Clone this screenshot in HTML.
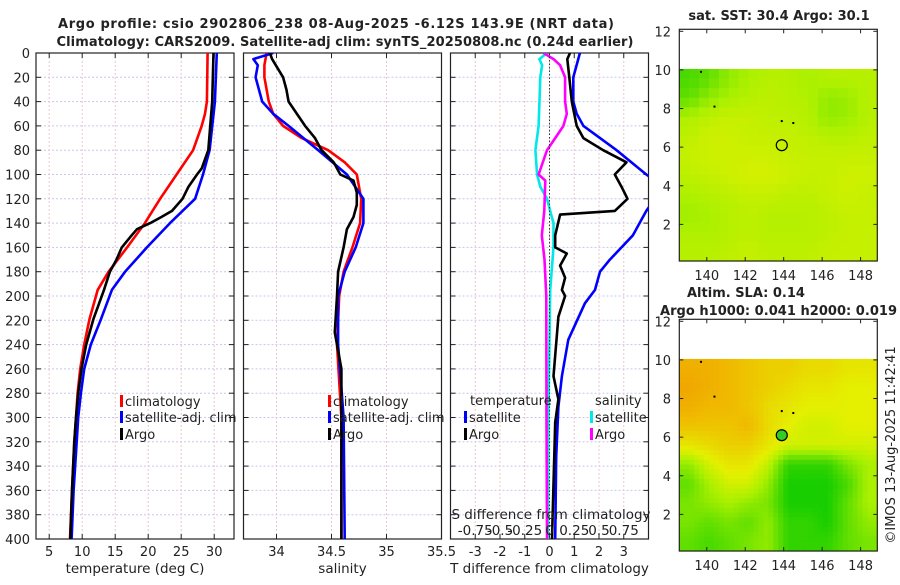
<!DOCTYPE html>
<html><head><meta charset="utf-8"><style>
body{margin:0;background:#fff;}
svg{font-family:"DejaVu Sans","Liberation Sans",sans-serif;}
</style></head><body>
<svg id="fig" width="900" height="580" viewBox="0 0 900 580" xmlns="http://www.w3.org/2000/svg"></svg>
<script>
// ---- data ----
const depthsT = [0,40,50,60,80,100,120,140,160,180,195,219,240,260,280,300,320,360,400];
const tempClim = [29.0,28.9,28.6,28.1,26.8,24.3,21.8,19.5,16.8,14.0,12.35,11.1,10.3,9.7,9.3,9.06,8.8,8.45,8.15];
const depthsTS = [0,40,80,100,120,140,160,180,195,219,240,260,280,300,320,360,400];
const tempSat = [30.4,30.1,29.3,28.3,27.1,23.3,19.8,16.5,14.5,12.85,11.3,10.3,9.8,9.4,9.17,8.7,8.4];
const depthsTA = [0,40,80,95,100,110,120,130,135,140,145,150,160,170,180,195,219,240,260,280,300,320,360,400];
const tempArgo = [29.9,29.7,29.1,28.1,27.4,26.1,25.2,23.6,22.0,20.3,18.3,17.5,16.0,15.2,14.2,13.3,11.7,10.6,9.9,9.4,9.06,8.8,8.45,8.2];

const depthsSC = [0,10,20,40,50,60,70,80,90,100,120,140,160,180,200,240,300,400];
const salClim = [33.91,33.89,33.89,33.93,33.97,34.06,34.23,34.47,34.62,34.73,34.77,34.76,34.69,34.61,34.57,34.55,34.59,34.59];
const depthsSS = [0,5,10,20,40,50,60,80,100,120,140,160,180,200,240,300,400];
const salSat = [33.97,33.79,33.83,33.81,33.87,33.97,34.11,34.38,34.64,34.79,34.79,34.72,34.62,34.56,34.56,34.61,34.62];
const depthsSA = [0,5,20,30,40,60,70,80,90,100,105,115,125,135,145,160,180,200,230,260,300,400];
const salArgo = [33.94,33.96,34.06,34.09,34.11,34.26,34.35,34.41,34.52,34.58,34.70,34.73,34.73,34.70,34.64,34.61,34.56,34.55,34.53,34.59,34.59,34.59];

const depthsDT = [0,20,40,50,60,80,100,110,130,150,160,170,180,195,206,236,266,291,332,400];
const dtSat = [1.23,0.96,0.96,1.10,1.37,2.71,3.91,4.6,3.91,3.37,2.91,2.44,2.04,1.84,1.43,0.76,0.5,0.36,0.27,0.23];
const depthsDA = [0,5,20,40,60,70,80,90,100,110,120,130,133,150,160,165,175,185,195,200,217,266,285,304,400];
const dtArgo = [0.83,0.72,0.8,0.9,1.1,1.37,2.17,3.11,2.64,2.91,3.15,2.64,0.43,0.23,0.23,0.7,0.43,0.63,0.5,0.63,0.36,0.16,0.36,0.23,0.1];
const depthsDSS = [0,5,10,20,60,80,100,110,120,130,140,160,195,304,400];
const dsSat = [-0.1,-0.41,-0.3,-0.37,-0.44,-0.57,-0.5,-0.37,-0.1,0.03,0.16,0.16,0.03,-0.05,-0.06];
const depthsDSA = [0,5,10,20,40,50,60,70,80,100,105,130,150,170,200,300,400];
const dsArgo = [-0.24,0.16,0.43,0.63,0.63,0.7,0.56,0.23,-0.1,-0.44,-0.17,-0.21,-0.31,-0.2,-0.13,-0.12,-0.1];

const depthTicks = [0,20,40,60,80,100,120,140,160,180,200,220,240,260,280,300,320,340,360,380,400];
const tempTicks = [5,10,15,20,25,30];
const salTicks = [34,34.5,35,35.5];
const dTicks = [-3,-2,-1,0,1,2,3];
const sdTicks = [-0.75,-0.5,-0.25,0,0.25,0.5,0.75];
const latTicks = [2,4,6,8,10,12];
const lonTicks = [140,142,144,146,148];

// map values (0 green .. 1 orange), rows from lat 10 down to 0
const sstGrid = [
[0.15,0.2,0.3,0.35,0.38,0.38,0.35,0.38,0.38,0.38],
[0.2,0.3,0.35,0.38,0.4,0.38,0.37,0.3,0.32,0.38],
[0.36,0.4,0.42,0.42,0.4,0.4,0.38,0.3,0.32,0.38],
[0.4,0.44,0.44,0.42,0.42,0.42,0.4,0.38,0.38,0.4],
[0.42,0.44,0.44,0.44,0.44,0.42,0.42,0.42,0.42,0.42],
[0.4,0.42,0.44,0.46,0.46,0.44,0.42,0.42,0.44,0.44],
[0.36,0.38,0.4,0.42,0.42,0.4,0.4,0.42,0.44,0.42],
[0.33,0.35,0.38,0.4,0.38,0.38,0.38,0.4,0.42,0.42],
[0.36,0.36,0.38,0.4,0.38,0.38,0.38,0.4,0.42,0.42],
[0.38,0.38,0.4,0.42,0.4,0.4,0.4,0.42,0.42,0.42]];
const slaGrid = [
[0.8,0.8,0.75,0.7,0.65,0.65,0.6,0.6,0.55,0.55],
[0.85,0.8,0.75,0.7,0.65,0.6,0.55,0.55,0.5,0.5],
[0.8,0.75,0.75,0.7,0.6,0.55,0.5,0.5,0.5,0.5],
[0.7,0.7,0.7,0.75,0.6,0.5,0.45,0.45,0.5,0.5],
[0.55,0.6,0.65,0.65,0.55,0.45,0.45,0.45,0.45,0.45],
[0.3,0.45,0.55,0.55,0.4,0.1,0.1,0.1,0.25,0.35],
[0.2,0.35,0.45,0.45,0.3,0.05,0.05,0.05,0.15,0.35],
[0.25,0.3,0.35,0.3,0.25,0.05,0.05,0.05,0.2,0.35],
[0.25,0.2,0.25,0.2,0.3,0.1,0.1,0.05,0.2,0.3],
[0.2,0.15,0.2,0.25,0.3,0.1,0.1,0.1,0.2,0.25]];

// ---- helpers ----
const NS="http://www.w3.org/2000/svg";
const svg=document.getElementById('fig');
function mk(tag,attrs,parent){const e=document.createElementNS(NS,tag);for(const k in attrs)e.setAttribute(k,attrs[k]);(parent||svg).appendChild(e);return e;}
function txt(s,x,y,anchor,size,weight,parent){const t=mk('text',{x:x,y:y,'text-anchor':anchor||'start','font-size':size||13,'font-weight':weight||'normal',fill:'#222'},parent);t.textContent=s;return t;}

const Y0=53,Y1=539;
const yD=d=>Y0+(Y1-Y0)*d/400;
function makeX(x0,x1,v0,v1){return v=>x0+(x1-x0)*(v-v0)/(v1-v0);}

const panels=[
 {name:'temperature',x0:36,x1:234,v0:3,v1:33,ticks:tempTicks,label:'temperature (deg C)'},
 {name:'salinity',x0:243.5,x1:441.5,v0:33.7,v1:35.5,ticks:salTicks,label:'salinity'},
 {name:'difference',x0:450.5,x1:648.5,v0:-4,v1:4,ticks:dTicks,label:'T difference from climatology'}
];

panels.forEach((p,pi)=>{
  const g=mk('g',{});
  
  
  const xs=makeX(p.x0,p.x1,p.v0,p.v1);p.xs=xs;
  const clip=mk('clipPath',{id:'clip'+pi},g);
  mk('rect',{x:p.x0,y:Y0,width:p.x1-p.x0,height:Y1-Y0},clip);
  depthTicks.forEach(d=>{
    const l=mk('line',{x1:p.x0,x2:p.x1,y1:yD(d),y2:yD(d),stroke:'#c4c8ee','stroke-width':1,'stroke-dasharray':'2,2'},g);
    
    
  });
  p.ticks.forEach(v=>{
    const x=xs(v);
    if(x>p.x0+1&&x<p.x1-1){
      const l=mk('line',{x1:x,x2:x,y1:Y0,y2:Y1,stroke:'#e8c8c8','stroke-width':1,'stroke-dasharray':'2,2'},g);
      
      
    }
    const t=txt(String(v),x,556,'middle',13,'normal',g);
    
    
    mk('line',{x1:x,x2:x,y1:Y1,y2:Y1-5,stroke:'#222'},g);
    mk('line',{x1:x,x2:x,y1:Y0,y2:Y0+5,stroke:'#222'},g);
  });
  depthTicks.forEach(d=>{
    mk('line',{x1:p.x0,x2:p.x0+5,y1:yD(d),y2:yD(d),stroke:'#222'},g);
    mk('line',{x1:p.x1,x2:p.x1-5,y1:yD(d),y2:yD(d),stroke:'#222'},g);
  });
  const fr=mk('rect',{x:p.x0,y:Y0,width:p.x1-p.x0,height:Y1-Y0,fill:'none',stroke:'#222','stroke-width':1.2},g);
  
  
  const xl=txt(p.label,(p.x0+p.x1)/2,573,'middle',13.5,'normal',g);
  
  
  p.g=g;
});
depthTicks.forEach(d=>{
  const t=txt(String(d),30,yD(d)+5,'end',13);
  
  
});
const zl=mk('line',{x1:panels[2].xs(0),x2:panels[2].xs(0),y1:Y0,y2:Y1,stroke:'#333','stroke-dasharray':'1.5,2'});



function series(pi,depths,vals,color,name){
  const p=panels[pi];
  const pts=depths.map((d,i)=>p.xs(vals[i]).toFixed(1)+','+yD(d).toFixed(1)).join(' ');
  const pl=mk('polyline',{points:pts,fill:'none',stroke:color,'stroke-width':2.6,'stroke-linejoin':'round','clip-path':'url(#clip'+pi+')'},p.g);
  
  
}
series(0,depthsT,tempClim,'#ff0000','temp-climatology-line');
series(0,depthsTS,tempSat,'#0000ff','temp-satellite-line');
series(0,depthsTA,tempArgo,'#000000','temp-argo-line');
series(1,depthsSC,salClim,'#ff0000','sal-climatology-line');
series(1,depthsSS,salSat,'#0000ff','sal-satellite-line');
series(1,depthsSA,salArgo,'#000000','sal-argo-line');
series(2,depthsDSS,dsSat,'#00e8e8','sal-diff-satellite-line');
series(2,depthsDSA,dsArgo,'#ff00ff','sal-diff-argo-line');
series(2,depthsDT,dtSat,'#0000ff','temp-diff-satellite-line');
series(2,depthsDA,dtArgo,'#000000','temp-diff-argo-line');

function legEntry(x,y,color,label){
  const g=mk('g',{});
  
  
  mk('rect',{x:x,y:y-11,width:3,height:12,fill:color},g);
  txt(label,x+5,y,'start',13,'normal',g);
}
[120,328].forEach(x=>{
  legEntry(x,406,'#ff0000','climatology');
  legEntry(x,422,'#0000ff','satellite-adj. clim');
  legEntry(x,439,'#000000','Argo');
});
const lh1=txt('temperature',470,405,'start',13);


const lh2=txt('salinity',595,405,'start',13);


legEntry(464,422,'#0000ff','satellite');
legEntry(464,439,'#000000','Argo');
legEntry(590,422,'#00e8e8','satellite');
legEntry(590,439,'#ff00ff','Argo');
const sdt=txt('S difference from climatology',551,519,'middle',13.5);


sdTicks.forEach(v=>{
  const t=txt(String(v),panels[2].xs(v*4),535,'middle',13.5);
  
  
});

const t1=txt('Argo profile: csio 2902806_238 08-Aug-2025 -6.12S 143.9E (NRT data)',336,28,'middle',13,'bold');
t1.setAttribute('textLength',556);


const t2=txt('Climatology: CARS2009. Satellite-adj clim: synTS_20250808.nc (0.24d earlier)',345,46,'middle',13,'bold');
t2.setAttribute('textLength',577);



// maps
const MX0=679.3,MX1=877.3,LON0=138.57,LON1=148.87;
const lonX=makeX(MX0,MX1,LON0,LON1);
function colorOf(v){
  const stops=[[0,[0,200,0]],[0.35,[170,240,0]],[0.5,[228,240,0]],[0.75,[240,185,0]],[1,[240,140,0]]];
  for(let i=1;i<stops.length;i++){if(v<=stops[i][0]){const a=stops[i-1],b=stops[i];const f=(v-a[0])/(b[0]-a[0]);return 'rgb('+a[1].map((c,k)=>Math.round(c+(b[1][k]-c)*f)).join(',')+')';}}
  return 'rgb(240,140,0)';
}
function sample(grid,fr,fc){
  const R=grid.length-1,C=grid[0].length-1;
  const r=Math.max(0,Math.min(R,fr)),c=Math.max(0,Math.min(C,fc));
  const r0=Math.floor(r),c0=Math.floor(c),r1=Math.min(R,r0+1),c1=Math.min(C,c0+1);
  const a=r-r0,b=c-c0;
  return grid[r0][c0]*(1-a)*(1-b)+grid[r0][c1]*(1-a)*b+grid[r1][c0]*a*(1-b)+grid[r1][c1]*a*b;
}
function drawMap(top,bottom,grid,name,circleFill,sub){
  const ly=l=>bottom+2-(bottom+2-(top+2))*l/12;
  const g=mk('g',{});
  
  
  const rows=grid.length*sub,cols=grid[0].length*sub;
  const yTop=ly(10.05),yBot=bottom;
  const ch=(yBot-yTop)/rows,cw=(MX1-MX0)/cols;
  for(let r=0;r<rows;r++)for(let c=0;c<cols;c++){
    const v=sample(grid,(r+0.5)/sub-0.5,(c+0.5)/sub-0.5);
    const cell=mk('rect',{x:(MX0+c*cw).toFixed(2),y:(yTop+r*ch).toFixed(2),width:(cw+0.6).toFixed(2),height:(ch+0.6).toFixed(2),fill:colorOf(v)},g);
    
    
  }
  [[139.7,9.9],[140.4,8.1],[143.9,7.35],[144.5,7.25]].forEach(([lo,la])=>mk('rect',{x:lonX(lo)-1,y:ly(la)-1,width:2,height:2,fill:'#000'},g));
  const c=mk('circle',{cx:lonX(143.9),cy:ly(6.1),r:5.5,fill:circleFill,stroke:'#000','stroke-width':1.2},g);
  
  
  mk('rect',{x:MX0,y:top,width:MX1-MX0,height:bottom-top,fill:'none',stroke:'#222','stroke-width':1.2},g);
  latTicks.forEach(l=>{
    const y=ly(l);
    mk('line',{x1:MX0,x2:MX0+4,y1:y,y2:y,stroke:'#222'},g);
    mk('line',{x1:MX1,x2:MX1-4,y1:y,y2:y,stroke:'#222'},g);
    const t=txt(String(l),671,y+5,'end',13,'normal',g);
    
    
  });
  lonTicks.forEach(lo=>{
    const x=lonX(lo);
    mk('line',{x1:x,x2:x,y1:bottom,y2:bottom-4,stroke:'#222'},g);
    mk('line',{x1:x,x2:x,y1:top,y2:top+4,stroke:'#222'},g);
    const t=txt(String(lo),x,bottom+19,'middle',13,'normal',g);
    
    
  });
}
drawMap(29.3,261,sstGrid,'sst-map','none',2);
drawMap(319.3,551,slaGrid,'sla-map','#33cc22',4);
const mt1=txt('sat. SST: 30.4 Argo: 30.1',779,20,'middle',13,'bold');


const mt2=txt('Altim. SLA: 0.14',687,297,'start',13,'bold');


const mt3=txt('Argo h1000: 0.041 h2000: 0.019',660,315,'start',13,'bold');
mt3.setAttribute('textLength',237);


const cp=txt('©IMOS 13-Aug-2025 11:42:41',0,0,'middle',13);
cp.setAttribute('transform','translate(895,445) rotate(-90)');


</script>
</body></html>
